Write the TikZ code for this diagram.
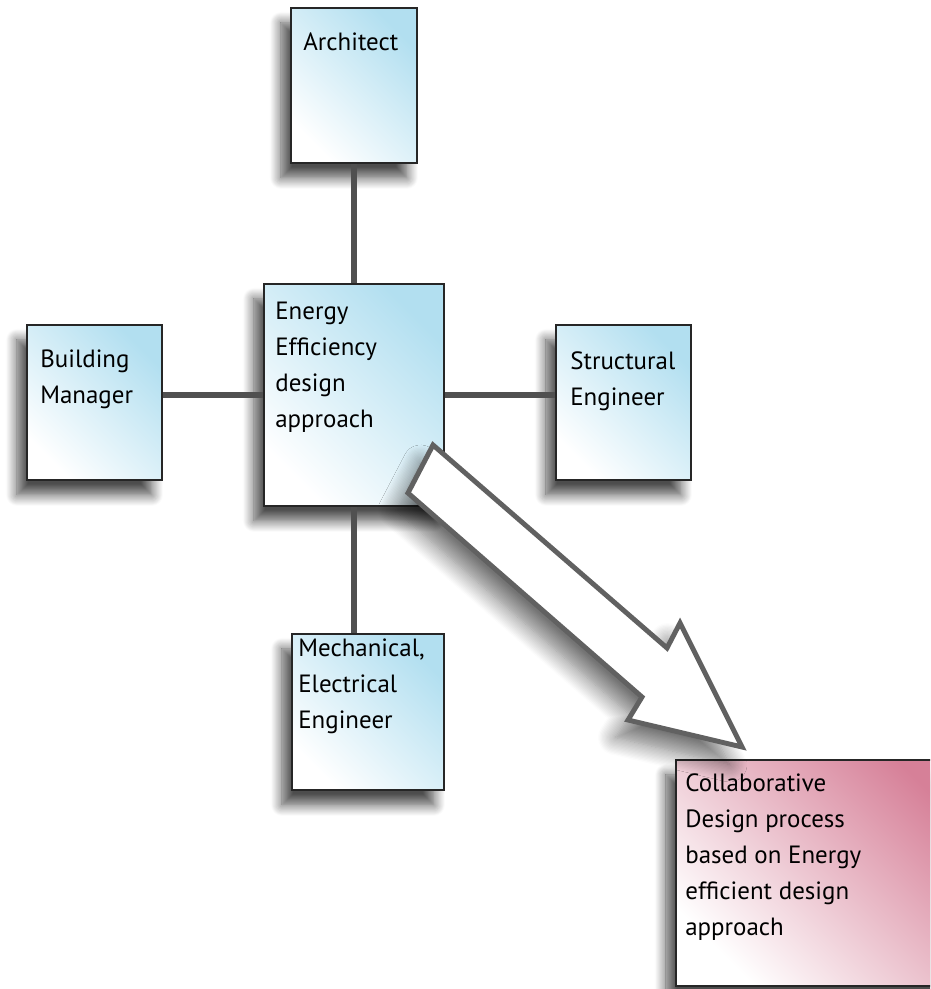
\documentclass[tikz,border=0pt]{standalone}
\usepackage{fontspec}
\setmainfont{PT Sans}
\usetikzlibrary{shadows.blur}
\usepackage{xcolor}

\definecolor{boxblue}{RGB}{178,223,240}
\definecolor{boxpink}{RGB}{214,128,152}
\definecolor{linegray}{RGB}{80,80,80}
\newcommand{\pxu}{0.02cm}

\tikzset{
    rolebox/.style={draw=black!85, line width=1.1pt, anchor=north west,
        inner sep=0pt, bottom color=white, top color=boxblue,
        shading angle=-45,
        blur shadow={shadow xshift=-0.2cm, shadow yshift=-0.3cm,
            shadow blur radius=0.22cm, shadow blur steps=12,
            shadow opacity=70}},
    goalbox/.style={rolebox, bottom color=white, top color=boxpink,
        shading angle=-45},
    boxtext/.style={anchor=north west, inner sep=0pt, align=left,
        font=\fontsize{14.2pt}{20.5pt}\selectfont,
        execute at begin node={\rule{0pt}{1em}}},
    link/.style={draw=linegray, line width=3.6pt},
    bigarrow/.style={draw=linegray!90, fill=white, line width=2.8pt,
        line join=miter,
        blur shadow={shadow xshift=-0.25cm, shadow yshift=-0.35cm,
            shadow blur radius=0.35cm, shadow blur steps=14,
            shadow opacity=55}}
}

\begin{document}
\begin{tikzpicture}[x=\pxu, y=-\pxu]
    \path[use as bounding box] (0,0) rectangle (930,989);
    \clip (0,0) rectangle (930,989);

    % boxes
    \node[rolebox, minimum width=126*\pxu, minimum height=155*\pxu] (arch) at (290,7) {};
    \node[rolebox, minimum width=135*\pxu, minimum height=155*\pxu] (bm) at (26,324) {};
    \node[rolebox, minimum width=180*\pxu, minimum height=222*\pxu] (ctr) at (263,283) {};
    \node[rolebox, minimum width=135*\pxu, minimum height=155*\pxu] (se) at (555,324) {};
    \node[rolebox, minimum width=152*\pxu, minimum height=156*\pxu] (mech) at (291,633) {};
    \node[goalbox, minimum width=300*\pxu, minimum height=226*\pxu] (collab) at (675,759) {};

    % texts
    \node[boxtext] (arch-t) at ([shift={(13,18)}]arch.north west) {Architect};
    \node[boxtext] (bm-t) at ([shift={(14,25)}]bm.north west) {Building\\Manager};
    \node[boxtext] (ctr-t) at ([shift={(12,19)}]ctr.north west) {Energy\\Efficiency\\design\\approach};
    \node[boxtext] (se-t) at ([shift={(15,27)}]se.north west) {Structural\\Engineer};
    \node[boxtext] (mech-t) at ([shift={(7,5)}]mech.north west) {Mechanical,\\Electrical\\Engineer};
    \node[boxtext] (collab-t) at ([shift={(10,14)}]collab.north west) {Collaborative\\Design process\\based on Energy\\efficient design\\approach};

    % links
    \draw[link] (arch.south) -- (ctr.north);
    \draw[link] (ctr.west) -- (ctr.west -| bm.east);
    \draw[link] (ctr.east) -- (ctr.east -| se.west);
    \draw[link] (ctr.south) -- (ctr.south |- mech.north);

    % big arrow
    \draw[bigarrow] (433,445) -- (667,648) -- (680,623) -- (742,747)
        -- (628,720) -- (642,697) -- (408,493) -- cycle;
\end{tikzpicture}
\end{document}
